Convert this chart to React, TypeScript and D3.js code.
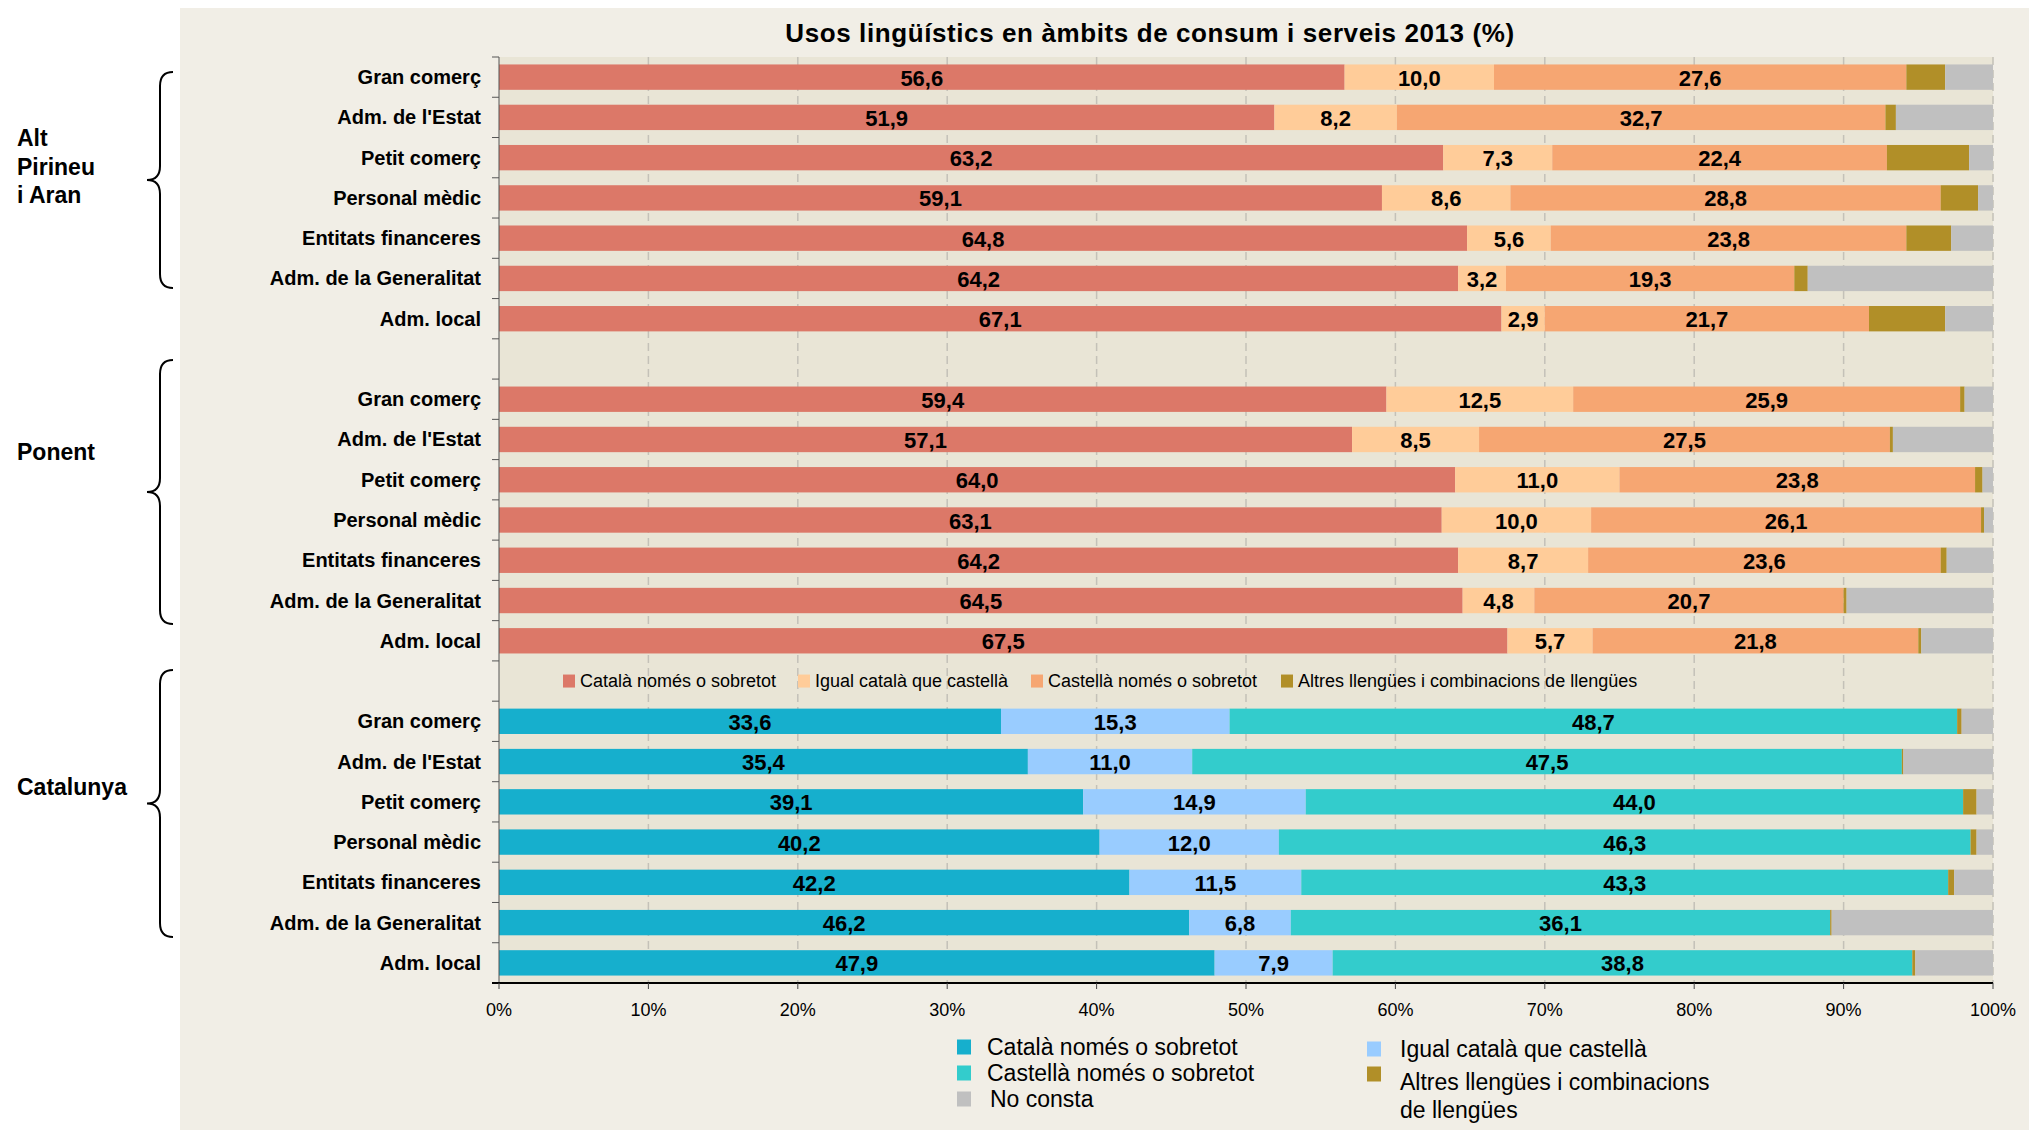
import React from "react";
import * as d3 from "d3";

// categories and regions
const categories = ["Gran comerç", "Adm. de l'Estat", "Petit comerç", "Personal mèdic", "Entitats financeres", "Adm. de la Generalitat", "Adm. local"];
const regions = ["Alt Pirineu i Aran", "Ponent", "Catalunya"];
const seriesKeys = ["catala", "igual", "castella", "altres", "noConsta"];
const seriesNames = ["Català només o sobretot", "Igual català que castellà", "Castellà només o sobretot", "Altres llengües i combinacions de llengües", "No consta"];

// Alt Pirineu i Aran
const altCatala = [56.6, 51.9, 63.2, 59.1, 64.8, 64.2, 67.1];
const altIgual = [10.0, 8.2, 7.3, 8.6, 5.6, 3.2, 2.9];
const altCastella = [27.6, 32.7, 22.4, 28.8, 23.8, 19.3, 21.7];
const altAltres = [2.6, 0.7, 5.5, 2.5, 3.0, 0.9, 5.1];
const altNoConsta = [3.2, 6.5, 1.6, 1.0, 2.8, 12.4, 3.2];

// Ponent
const ponCatala = [59.4, 57.1, 64.0, 63.1, 64.2, 64.5, 67.5];
const ponIgual = [12.5, 8.5, 11.0, 10.0, 8.7, 4.8, 5.7];
const ponCastella = [25.9, 27.5, 23.8, 26.1, 23.6, 20.7, 21.8];
const ponAltres = [0.3, 0.2, 0.5, 0.2, 0.4, 0.2, 0.2];
const ponNoConsta = [1.9, 6.7, 0.7, 0.6, 3.1, 9.8, 4.8];

// Catalunya
const catCatala = [33.6, 35.4, 39.1, 40.2, 42.2, 46.2, 47.9];
const catIgual = [15.3, 11.0, 14.9, 12.0, 11.5, 6.8, 7.9];
const catCastella = [48.7, 47.5, 44.0, 46.3, 43.3, 36.1, 38.8];
const catAltres = [0.3, 0.1, 0.9, 0.4, 0.4, 0.1, 0.2];
const catNoConsta = [2.1, 6.0, 1.1, 1.1, 2.6, 10.8, 5.2];

const xTicks = [0, 10, 20, 30, 40, 50, 60, 70, 80, 90, 100];

const orangeColors = ["#DC7868", "#FFCC99", "#F6A672", "#B18F28", "#C0C0C0"];
const blueColors = ["#16AFCD", "#99CCFF", "#33CCCC", "#B18F28", "#C0C0C0"];

const regionSeries = [
  [altCatala, altIgual, altCastella, altAltres, altNoConsta],
  [ponCatala, ponIgual, ponCastella, ponAltres, ponNoConsta],
  [catCatala, catIgual, catCastella, catAltres, catNoConsta],
];

const fmt = (v: number) => d3.format(".1f")(v).replace(".", ",");
const FONT = "'Liberation Sans', Arial, Helvetica, sans-serif";

export default function App() {
  const W = 2029, H = 1130;
  const left = 499, right = 1993, top = 57, bottom = 983;

  // rows: 3 regions x 7 categories, with an empty slot between regions
  const rows: any[] = [];
  const domain: string[] = [];
  regions.forEach((r, ri) => {
    if (ri > 0) domain.push("gap" + ri);
    categories.forEach((c, ci) => {
      const key = ri + "-" + ci;
      domain.push(key);
      const row: any = { key, region: ri, category: c };
      seriesKeys.forEach((s, si) => (row[s] = regionSeries[ri][si][ci]));
      rows.push(row);
    });
  });

  const x = d3.scaleLinear().domain([0, 100]).range([left, right]);
  const y = d3.scaleBand().domain(domain).range([top, bottom]).paddingInner(0.37).paddingOuter(0.185);
  const step = y.step();
  const stacked = d3.stack().keys(seriesKeys)(rows);

  const braces = [
    { y0: 72, y1: 288, label: ["Alt", "Pirineu", "i Aran"], ly: 138 },
    { y0: 360, y1: 624, label: ["Ponent"], ly: 452 },
    { y0: 670, y1: 937, label: ["Catalunya"], ly: 787 },
  ];
  const bracePath = (y0: number, y1: number) => {
    const m = (y0 + y1) / 2, xv = 160, xe = 173, xt = 147, r = 14;
    return `M${xe},${y0} Q${xv},${y0} ${xv},${y0 + r} L${xv},${m - r} Q${xv},${m} ${xt},${m} Q${xv},${m} ${xv},${m + r} L${xv},${y1 - r} Q${xv},${y1} ${xe},${y1}`;
  };

  const gapY = (y("gap2") as number) + y.bandwidth() / 2;
  const innerLegendX = [563, 798, 1031, 1281];

  const bottomLegend = [
    { sx: 957, tx: 987, y: 1047, color: blueColors[0], lines: [seriesNames[0]] },
    { sx: 957, tx: 987, y: 1073, color: blueColors[2], lines: [seriesNames[2]] },
    { sx: 957, tx: 990, y: 1099, color: blueColors[4], lines: [seriesNames[4]] },
    { sx: 1367, tx: 1400, y: 1049, color: blueColors[1], lines: [seriesNames[1]] },
    { sx: 1367, tx: 1400, y: 1074, color: blueColors[3], lines: ["Altres llengües i combinacions", "de llengües"], ty: 1082 },
  ];

  return (
    <svg width={W} height={H} style={{ position: "fixed", left: 0, top: 0, background: "#fff" }} fontFamily={FONT}>
      <rect x={180} y={8} width={W - 180} height={H - 8} fill="#F1EEE6" />
      <rect x={left} y={top} width={right - left} height={bottom - top} fill="#E9E5D6" />

      <text x={1150} y={33} textAnchor="middle" dominantBaseline="central" fontSize={26} fontWeight="bold" letterSpacing={0.6}>
        Usos lingüístics en àmbits de consum i serveis 2013 (%)
      </text>

      {/* gridlines */}
      {xTicks.slice(1).map((t) => (
        <line key={t} x1={x(t)} x2={x(t)} y1={top} y2={bottom} stroke="#C4C1B8" strokeWidth={1.5} strokeDasharray="8,5" />
      ))}

      {/* bars */}
      {stacked.map((layer, si) => (
        <g key={layer.key}>
          {layer.map((d: any) => {
            const row = d.data;
            const colors = row.region === 2 ? blueColors : orangeColors;
            return (
              <rect key={row.key} x={x(d[0])} y={y(row.key)} width={x(d[1]) - x(d[0])} height={y.bandwidth()} fill={colors[si]} />
            );
          })}
        </g>
      ))}

      {/* value labels for the first three series */}
      {stacked.slice(0, 3).map((layer) => (
        <g key={"l" + layer.key}>
          {layer.map((d: any) => (
            <text key={d.data.key} x={x((d[0] + d[1]) / 2)} y={(y(d.data.key) as number) + y.bandwidth() / 2 + 1} textAnchor="middle" dominantBaseline="central" fontSize={22} fontWeight="bold" fill="#000">
              {fmt(d[1] - d[0])}
            </text>
          ))}
        </g>
      ))}

      {/* y axis */}
      <line x1={left} x2={left} y1={top} y2={bottom} stroke="#555" strokeWidth={1} />
      {d3.range(domain.length + 1).map((i) => (
        <line key={i} x1={left - 7} x2={left} y1={top + i * step} y2={top + i * step} stroke="#555" strokeWidth={1} />
      ))}
      {rows.map((r) => (
        <text key={"c" + r.key} x={481} y={(y(r.key) as number) + y.bandwidth() / 2} textAnchor="end" dominantBaseline="central" fontSize={20} fontWeight="bold">
          {r.category}
        </text>
      ))}

      {/* x axis */}
      <line x1={left - 7} x2={right} y1={bottom} y2={bottom} stroke="#000" strokeWidth={2} />
      {xTicks.map((t) => (
        <g key={"t" + t}>
          <line x1={x(t)} x2={x(t)} y1={bottom} y2={bottom + 6} stroke="#444" strokeWidth={1} />
          <text x={x(t)} y={1010} textAnchor="middle" dominantBaseline="central" fontSize={18}>
            {t}%
          </text>
        </g>
      ))}

      {/* legend inside the plot */}
      {innerLegendX.map((lx, i) => (
        <g key={"il" + i}>
          <rect x={lx} y={gapY - 6.5} width={12} height={13} fill={orangeColors[i]} />
          <text x={lx + 17} y={gapY} dominantBaseline="central" fontSize={18}>
            {seriesNames[i]}
          </text>
        </g>
      ))}

      {/* bottom legend */}
      {bottomLegend.map((l, i) => (
        <g key={"bl" + i}>
          <rect x={l.sx} y={l.y - 7.5} width={14} height={15} fill={l.color} />
          {l.lines.map((t, j) => (
            <text key={j} x={l.tx} y={(l.ty ?? l.y) + j * 28} dominantBaseline="central" fontSize={23}>
              {t}
            </text>
          ))}
        </g>
      ))}

      {/* region braces */}
      {braces.map((b, i) => (
        <g key={"b" + i}>
          <path d={bracePath(b.y0, b.y1)} fill="none" stroke="#000" strokeWidth={2} />
          {b.label.map((t, j) => (
            <text key={j} x={17} y={b.ly + j * 28.5} dominantBaseline="central" fontSize={23} fontWeight="bold">
              {t}
            </text>
          ))}
        </g>
      ))}
    </svg>
  );
}
